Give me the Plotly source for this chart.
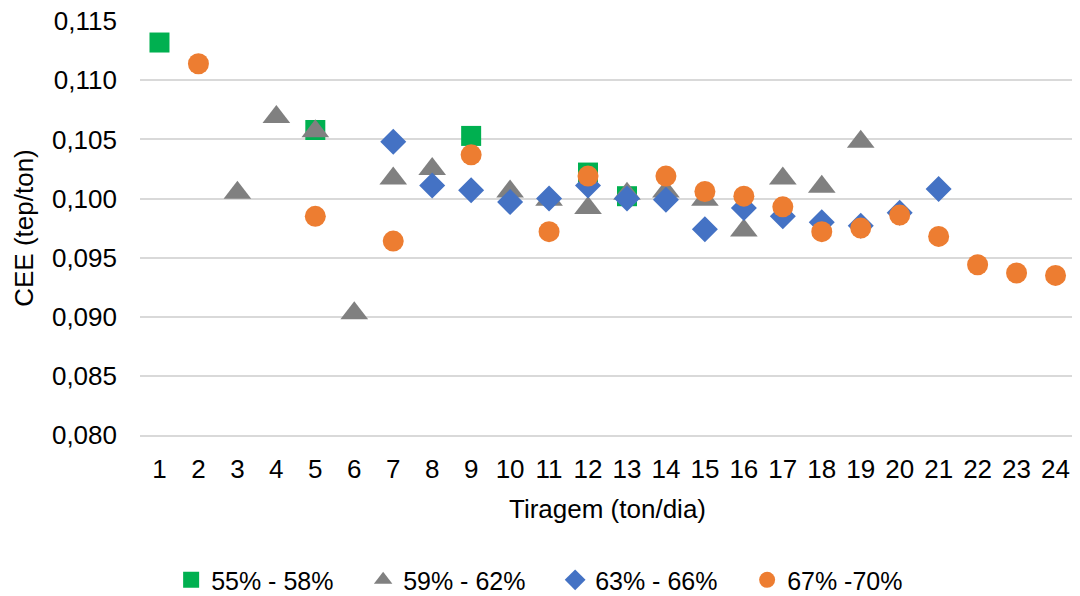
import plotly.graph_objects as go

tick_labels = [str(i) for i in range(1, 25)]
y_ticks = [0.080, 0.085, 0.090, 0.095, 0.100, 0.105, 0.110, 0.115]

x_g1 = [1, 5, 9, 12, 13]
y_g1 = [0.1132, 0.1058, 0.1053, 0.1022, 0.1002]

x_g2 = [3, 4, 5, 6, 7, 8, 10, 11, 12, 13, 14, 15, 16, 17, 18, 19]
y_g2 = [0.1005, 0.1069, 0.1057, 0.0903, 0.1017, 0.1025, 0.1006, 0.0999, 0.0992,
        0.1004, 0.1006, 0.0999, 0.0973, 0.1017, 0.1010, 0.1048]

x_g3 = [7, 8, 9, 10, 11, 12, 13, 14, 15, 16, 17, 18, 19, 20, 21]
y_g3 = [0.1048, 0.1011, 0.1007, 0.0997, 0.1000, 0.1011, 0.1000, 0.0999, 0.0974,
        0.0992, 0.0985, 0.0980, 0.0977, 0.0988, 0.1008]

x_g4 = [2, 5, 7, 9, 11, 12, 14, 15, 16, 17, 18, 19, 20, 21, 22, 23, 24]
y_g4 = [0.1114, 0.0985, 0.0964, 0.1037, 0.0972, 0.1019, 0.1019, 0.1006, 0.1002,
        0.0993, 0.0972, 0.0975, 0.0986, 0.0968, 0.0944, 0.0937, 0.0935]

names = ["55% - 58%", "59% - 62%", "63% - 66%", "67% -70%"]

fig = go.Figure()
fig.add_trace(go.Scatter(x=x_g1, y=y_g1, mode="markers", name=names[0],
                         marker=dict(symbol="square", size=20, color="#00b050")))
fig.add_trace(go.Scatter(x=x_g2, y=y_g2, mode="markers", name=names[1],
                         marker=dict(symbol="triangle-up", size=24, color="#808080")))
fig.add_trace(go.Scatter(x=x_g3, y=y_g3, mode="markers", name=names[2],
                         marker=dict(symbol="diamond", size=20, color="#4472c4")))
fig.add_trace(go.Scatter(x=x_g4, y=y_g4, mode="markers", name=names[3],
                         marker=dict(symbol="circle", size=21, color="#ed7d31")))

font_family = "Liberation Sans, Arial, sans-serif"
fig.update_layout(
    width=1072, height=588,
    margin=dict(l=132, r=5, t=13, b=161),
    paper_bgcolor="white", plot_bgcolor="white",
    separators=",.",
    font=dict(family=font_family, size=26, color="#000000"),
    showlegend=True,
    legend=dict(orientation="h", x=0.444, xanchor="center",
                yref="container", y=0.027, yanchor="middle",
                font=dict(size=25), itemwidth=30, tracegroupgap=0,
                entrywidth=147, entrywidthmode="pixels"),
    xaxis=dict(
        range=[0.5, 24.5], tickmode="array", tickvals=list(range(1, 25)), ticktext=tick_labels,
        showgrid=False, zeroline=False, showline=True, linecolor="#d9d9d9", linewidth=1.5,
        ticks="", tickfont=dict(size=26), automargin=False, ticklabelstandoff=10,
        title=dict(text="Tiragem (ton/dia)", font=dict(size=26), standoff=17),
    ),
    yaxis=dict(
        range=[0.080, 0.11502], tickmode="array", tickvals=y_ticks, tickformat=".3f",
        showgrid=True, gridcolor="#d9d9d9", gridwidth=1.5, zeroline=False, showline=False,
        ticks="", tickfont=dict(size=26), ticklabelstandoff=22, automargin=False,
        ticklabeloverflow="allow",
        title=dict(text="CEE (tep/ton)", font=dict(size=26), standoff=10),
    ),
)

fig.write_html("out.html")
